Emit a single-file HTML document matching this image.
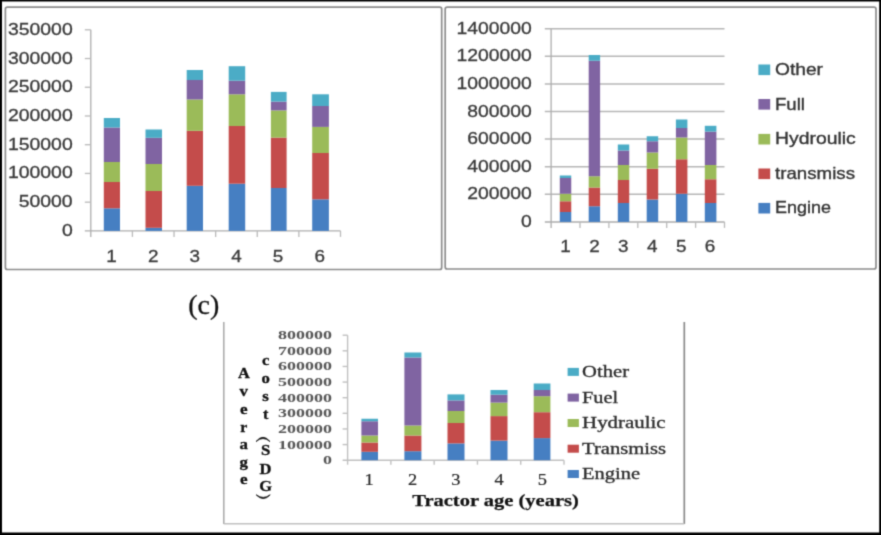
<!DOCTYPE html>
<html>
<head>
<meta charset="utf-8">
<title>Tractor repair cost charts</title>
<style>
html, body { margin: 0; padding: 0; background: #ffffff; }
body { position: relative; width: 881px; height: 535px; overflow: hidden; font-family: "Liberation Sans", sans-serif; }
svg { display: block; }
</style>
</head>
<body>
<svg width="881" height="535" viewBox="0 0 881 535">
<defs><filter id="soft" filterUnits="userSpaceOnUse" x="-10" y="-10" width="901" height="555" color-interpolation-filters="sRGB"><feConvolveMatrix order="3" kernelMatrix="0.02768 0.11101 0.02768 0.11101 0.44521 0.11101 0.02768 0.11101 0.02768" divisor="1" edgeMode="duplicate" preserveAlpha="true"/></filter></defs>
<g filter="url(#soft)">
<rect x="-10.00" y="-10.00" width="901.00" height="555.00" fill="#ffffff"/>
<rect x="-10.00" y="-10.00" width="901.00" height="11.50" fill="#000"/>
<rect x="-10.00" y="532.50" width="901.00" height="12.50" fill="#000"/>
<rect x="-10.00" y="-10.00" width="12.00" height="555.00" fill="#000"/>
<rect x="879.20" y="-10.00" width="11.80" height="555.00" fill="#000"/>
<rect x="5.4" y="7.1" width="436.30" height="262.40" rx="2" ry="2" fill="none" stroke="#8c8c8c" stroke-width="1.7"/>
<line x1="90.80" y1="29.80" x2="90.80" y2="236.90" stroke="#adadad" stroke-width="1.3"/>
<line x1="84.80" y1="230.90" x2="340.50" y2="230.90" stroke="#adadad" stroke-width="1.3"/>
<text x="72.70" y="235.90" font-family='"Liberation Sans", sans-serif' font-size="16.6" fill="#3a3a3a" text-anchor="end" font-weight="normal" stroke="#3a3a3a" stroke-width="0.3" textLength="10.80" lengthAdjust="spacingAndGlyphs" >0</text>
<line x1="84.80" y1="202.17" x2="90.80" y2="202.17" stroke="#bababa" stroke-width="1.3"/>
<text x="72.70" y="207.17" font-family='"Liberation Sans", sans-serif' font-size="16.6" fill="#3a3a3a" text-anchor="end" font-weight="normal" stroke="#3a3a3a" stroke-width="0.3" textLength="54.00" lengthAdjust="spacingAndGlyphs" >50000</text>
<line x1="84.80" y1="173.44" x2="90.80" y2="173.44" stroke="#bababa" stroke-width="1.3"/>
<text x="72.70" y="178.44" font-family='"Liberation Sans", sans-serif' font-size="16.6" fill="#3a3a3a" text-anchor="end" font-weight="normal" stroke="#3a3a3a" stroke-width="0.3" textLength="64.80" lengthAdjust="spacingAndGlyphs" >100000</text>
<line x1="84.80" y1="144.71" x2="90.80" y2="144.71" stroke="#bababa" stroke-width="1.3"/>
<text x="72.70" y="149.71" font-family='"Liberation Sans", sans-serif' font-size="16.6" fill="#3a3a3a" text-anchor="end" font-weight="normal" stroke="#3a3a3a" stroke-width="0.3" textLength="64.80" lengthAdjust="spacingAndGlyphs" >150000</text>
<line x1="84.80" y1="115.99" x2="90.80" y2="115.99" stroke="#bababa" stroke-width="1.3"/>
<text x="72.70" y="120.99" font-family='"Liberation Sans", sans-serif' font-size="16.6" fill="#3a3a3a" text-anchor="end" font-weight="normal" stroke="#3a3a3a" stroke-width="0.3" textLength="64.80" lengthAdjust="spacingAndGlyphs" >200000</text>
<line x1="84.80" y1="87.26" x2="90.80" y2="87.26" stroke="#bababa" stroke-width="1.3"/>
<text x="72.70" y="92.26" font-family='"Liberation Sans", sans-serif' font-size="16.6" fill="#3a3a3a" text-anchor="end" font-weight="normal" stroke="#3a3a3a" stroke-width="0.3" textLength="64.80" lengthAdjust="spacingAndGlyphs" >250000</text>
<line x1="84.80" y1="58.53" x2="90.80" y2="58.53" stroke="#bababa" stroke-width="1.3"/>
<text x="72.70" y="63.53" font-family='"Liberation Sans", sans-serif' font-size="16.6" fill="#3a3a3a" text-anchor="end" font-weight="normal" stroke="#3a3a3a" stroke-width="0.3" textLength="64.80" lengthAdjust="spacingAndGlyphs" >300000</text>
<line x1="84.80" y1="29.80" x2="90.80" y2="29.80" stroke="#bababa" stroke-width="1.3"/>
<text x="72.70" y="34.80" font-family='"Liberation Sans", sans-serif' font-size="16.6" fill="#3a3a3a" text-anchor="end" font-weight="normal" stroke="#3a3a3a" stroke-width="0.3" textLength="64.80" lengthAdjust="spacingAndGlyphs" >350000</text>
<line x1="132.42" y1="230.90" x2="132.42" y2="236.90" stroke="#bababa" stroke-width="1.3"/>
<line x1="174.03" y1="230.90" x2="174.03" y2="236.90" stroke="#bababa" stroke-width="1.3"/>
<line x1="215.65" y1="230.90" x2="215.65" y2="236.90" stroke="#bababa" stroke-width="1.3"/>
<line x1="257.27" y1="230.90" x2="257.27" y2="236.90" stroke="#bababa" stroke-width="1.3"/>
<line x1="298.88" y1="230.90" x2="298.88" y2="236.90" stroke="#bababa" stroke-width="1.3"/>
<line x1="340.50" y1="230.90" x2="340.50" y2="236.90" stroke="#bababa" stroke-width="1.3"/>
<text x="111.61" y="262.30" font-family='"Liberation Sans", sans-serif' font-size="16.6" fill="#3a3a3a" text-anchor="middle" font-weight="normal" stroke="#3a3a3a" stroke-width="0.3" textLength="10.50" lengthAdjust="spacingAndGlyphs" >1</text>
<text x="153.22" y="262.30" font-family='"Liberation Sans", sans-serif' font-size="16.6" fill="#3a3a3a" text-anchor="middle" font-weight="normal" stroke="#3a3a3a" stroke-width="0.3" textLength="10.50" lengthAdjust="spacingAndGlyphs" >2</text>
<text x="194.84" y="262.30" font-family='"Liberation Sans", sans-serif' font-size="16.6" fill="#3a3a3a" text-anchor="middle" font-weight="normal" stroke="#3a3a3a" stroke-width="0.3" textLength="10.50" lengthAdjust="spacingAndGlyphs" >3</text>
<text x="236.46" y="262.30" font-family='"Liberation Sans", sans-serif' font-size="16.6" fill="#3a3a3a" text-anchor="middle" font-weight="normal" stroke="#3a3a3a" stroke-width="0.3" textLength="10.50" lengthAdjust="spacingAndGlyphs" >4</text>
<text x="278.07" y="262.30" font-family='"Liberation Sans", sans-serif' font-size="16.6" fill="#3a3a3a" text-anchor="middle" font-weight="normal" stroke="#3a3a3a" stroke-width="0.3" textLength="10.50" lengthAdjust="spacingAndGlyphs" >5</text>
<text x="319.69" y="262.30" font-family='"Liberation Sans", sans-serif' font-size="16.6" fill="#3a3a3a" text-anchor="middle" font-weight="normal" stroke="#3a3a3a" stroke-width="0.3" textLength="10.50" lengthAdjust="spacingAndGlyphs" >6</text>
<rect x="103.80" y="208.30" width="16.20" height="22.60" fill="#467fc2"/>
<rect x="103.80" y="182.00" width="16.20" height="26.30" fill="#c44c4b"/>
<rect x="103.80" y="162.00" width="16.20" height="20.00" fill="#9bbb59"/>
<rect x="103.80" y="127.50" width="16.20" height="34.50" fill="#8064a2"/>
<rect x="103.80" y="118.00" width="16.20" height="9.50" fill="#4bacc6"/>
<rect x="145.50" y="227.80" width="16.50" height="3.10" fill="#467fc2"/>
<rect x="145.50" y="191.00" width="16.50" height="36.80" fill="#c44c4b"/>
<rect x="145.50" y="164.00" width="16.50" height="27.00" fill="#9bbb59"/>
<rect x="145.50" y="137.80" width="16.50" height="26.20" fill="#8064a2"/>
<rect x="145.50" y="129.50" width="16.50" height="8.30" fill="#4bacc6"/>
<rect x="186.70" y="185.80" width="16.30" height="45.10" fill="#467fc2"/>
<rect x="186.70" y="130.80" width="16.30" height="55.00" fill="#c44c4b"/>
<rect x="186.70" y="99.50" width="16.30" height="31.30" fill="#9bbb59"/>
<rect x="186.70" y="80.00" width="16.30" height="19.50" fill="#8064a2"/>
<rect x="186.70" y="70.00" width="16.30" height="10.00" fill="#4bacc6"/>
<rect x="228.70" y="183.70" width="16.50" height="47.20" fill="#467fc2"/>
<rect x="228.70" y="126.00" width="16.50" height="57.70" fill="#c44c4b"/>
<rect x="228.70" y="94.30" width="16.50" height="31.70" fill="#9bbb59"/>
<rect x="228.70" y="80.70" width="16.50" height="13.60" fill="#8064a2"/>
<rect x="228.70" y="66.20" width="16.50" height="14.50" fill="#4bacc6"/>
<rect x="270.90" y="188.00" width="15.70" height="42.90" fill="#467fc2"/>
<rect x="270.90" y="137.60" width="15.70" height="50.40" fill="#c44c4b"/>
<rect x="270.90" y="110.40" width="15.70" height="27.20" fill="#9bbb59"/>
<rect x="270.90" y="101.60" width="15.70" height="8.80" fill="#8064a2"/>
<rect x="270.90" y="91.90" width="15.70" height="9.70" fill="#4bacc6"/>
<rect x="312.20" y="199.30" width="16.70" height="31.60" fill="#467fc2"/>
<rect x="312.20" y="153.00" width="16.70" height="46.30" fill="#c44c4b"/>
<rect x="312.20" y="126.90" width="16.70" height="26.10" fill="#9bbb59"/>
<rect x="312.20" y="106.00" width="16.70" height="20.90" fill="#8064a2"/>
<rect x="312.20" y="94.30" width="16.70" height="11.70" fill="#4bacc6"/>
<rect x="445.2" y="7.1" width="430.80" height="261.90" rx="2" ry="2" fill="none" stroke="#8c8c8c" stroke-width="1.7"/>
<line x1="544.80" y1="221.90" x2="724.50" y2="221.90" stroke="#adadad" stroke-width="1.5"/>
<text x="531.80" y="226.90" font-family='"Liberation Sans", sans-serif' font-size="16.6" fill="#3a3a3a" text-anchor="end" font-weight="normal" stroke="#3a3a3a" stroke-width="0.3" textLength="10.75" lengthAdjust="spacingAndGlyphs" >0</text>
<line x1="544.80" y1="194.30" x2="724.50" y2="194.30" stroke="#b6b6b6" stroke-width="1.5"/>
<text x="531.80" y="199.30" font-family='"Liberation Sans", sans-serif' font-size="16.6" fill="#3a3a3a" text-anchor="end" font-weight="normal" stroke="#3a3a3a" stroke-width="0.3" textLength="64.50" lengthAdjust="spacingAndGlyphs" >200000</text>
<line x1="544.80" y1="166.70" x2="724.50" y2="166.70" stroke="#b6b6b6" stroke-width="1.5"/>
<text x="531.80" y="171.70" font-family='"Liberation Sans", sans-serif' font-size="16.6" fill="#3a3a3a" text-anchor="end" font-weight="normal" stroke="#3a3a3a" stroke-width="0.3" textLength="64.50" lengthAdjust="spacingAndGlyphs" >400000</text>
<line x1="544.80" y1="139.10" x2="724.50" y2="139.10" stroke="#b6b6b6" stroke-width="1.5"/>
<text x="531.80" y="144.10" font-family='"Liberation Sans", sans-serif' font-size="16.6" fill="#3a3a3a" text-anchor="end" font-weight="normal" stroke="#3a3a3a" stroke-width="0.3" textLength="64.50" lengthAdjust="spacingAndGlyphs" >600000</text>
<line x1="544.80" y1="111.50" x2="724.50" y2="111.50" stroke="#b6b6b6" stroke-width="1.5"/>
<text x="531.80" y="116.50" font-family='"Liberation Sans", sans-serif' font-size="16.6" fill="#3a3a3a" text-anchor="end" font-weight="normal" stroke="#3a3a3a" stroke-width="0.3" textLength="64.50" lengthAdjust="spacingAndGlyphs" >800000</text>
<line x1="544.80" y1="83.90" x2="724.50" y2="83.90" stroke="#b6b6b6" stroke-width="1.5"/>
<text x="531.80" y="88.90" font-family='"Liberation Sans", sans-serif' font-size="16.6" fill="#3a3a3a" text-anchor="end" font-weight="normal" stroke="#3a3a3a" stroke-width="0.3" textLength="75.25" lengthAdjust="spacingAndGlyphs" >1000000</text>
<line x1="544.80" y1="56.30" x2="724.50" y2="56.30" stroke="#b6b6b6" stroke-width="1.5"/>
<text x="531.80" y="61.30" font-family='"Liberation Sans", sans-serif' font-size="16.6" fill="#3a3a3a" text-anchor="end" font-weight="normal" stroke="#3a3a3a" stroke-width="0.3" textLength="75.25" lengthAdjust="spacingAndGlyphs" >1200000</text>
<line x1="544.80" y1="28.70" x2="724.50" y2="28.70" stroke="#b6b6b6" stroke-width="1.5"/>
<text x="531.80" y="33.70" font-family='"Liberation Sans", sans-serif' font-size="16.6" fill="#3a3a3a" text-anchor="end" font-weight="normal" stroke="#3a3a3a" stroke-width="0.3" textLength="75.25" lengthAdjust="spacingAndGlyphs" >1400000</text>
<line x1="551.10" y1="28.70" x2="551.10" y2="227.90" stroke="#adadad" stroke-width="1.3"/>
<line x1="580.00" y1="221.90" x2="580.00" y2="227.90" stroke="#bababa" stroke-width="1.3"/>
<line x1="608.90" y1="221.90" x2="608.90" y2="227.90" stroke="#bababa" stroke-width="1.3"/>
<line x1="637.80" y1="221.90" x2="637.80" y2="227.90" stroke="#bababa" stroke-width="1.3"/>
<line x1="666.70" y1="221.90" x2="666.70" y2="227.90" stroke="#bababa" stroke-width="1.3"/>
<line x1="695.60" y1="221.90" x2="695.60" y2="227.90" stroke="#bababa" stroke-width="1.3"/>
<line x1="724.50" y1="221.90" x2="724.50" y2="227.90" stroke="#bababa" stroke-width="1.3"/>
<text x="565.55" y="252.20" font-family='"Liberation Sans", sans-serif' font-size="16.6" fill="#3a3a3a" text-anchor="middle" font-weight="normal" stroke="#3a3a3a" stroke-width="0.3" textLength="10.50" lengthAdjust="spacingAndGlyphs" >1</text>
<text x="594.45" y="252.20" font-family='"Liberation Sans", sans-serif' font-size="16.6" fill="#3a3a3a" text-anchor="middle" font-weight="normal" stroke="#3a3a3a" stroke-width="0.3" textLength="10.50" lengthAdjust="spacingAndGlyphs" >2</text>
<text x="623.35" y="252.20" font-family='"Liberation Sans", sans-serif' font-size="16.6" fill="#3a3a3a" text-anchor="middle" font-weight="normal" stroke="#3a3a3a" stroke-width="0.3" textLength="10.50" lengthAdjust="spacingAndGlyphs" >3</text>
<text x="652.25" y="252.20" font-family='"Liberation Sans", sans-serif' font-size="16.6" fill="#3a3a3a" text-anchor="middle" font-weight="normal" stroke="#3a3a3a" stroke-width="0.3" textLength="10.50" lengthAdjust="spacingAndGlyphs" >4</text>
<text x="681.15" y="252.20" font-family='"Liberation Sans", sans-serif' font-size="16.6" fill="#3a3a3a" text-anchor="middle" font-weight="normal" stroke="#3a3a3a" stroke-width="0.3" textLength="10.50" lengthAdjust="spacingAndGlyphs" >5</text>
<text x="710.05" y="252.20" font-family='"Liberation Sans", sans-serif' font-size="16.6" fill="#3a3a3a" text-anchor="middle" font-weight="normal" stroke="#3a3a3a" stroke-width="0.3" textLength="10.50" lengthAdjust="spacingAndGlyphs" >6</text>
<rect x="559.80" y="212.00" width="11.45" height="9.90" fill="#467fc2"/>
<rect x="559.80" y="201.25" width="11.45" height="10.75" fill="#c44c4b"/>
<rect x="559.80" y="193.75" width="11.45" height="7.50" fill="#9bbb59"/>
<rect x="559.80" y="178.00" width="11.45" height="15.75" fill="#8064a2"/>
<rect x="559.80" y="175.50" width="11.45" height="2.50" fill="#4bacc6"/>
<rect x="588.70" y="206.25" width="11.40" height="15.65" fill="#467fc2"/>
<rect x="588.70" y="187.50" width="11.40" height="18.75" fill="#c44c4b"/>
<rect x="588.70" y="176.25" width="11.40" height="11.25" fill="#9bbb59"/>
<rect x="588.70" y="60.75" width="11.40" height="115.50" fill="#8064a2"/>
<rect x="588.70" y="55.00" width="11.40" height="5.75" fill="#4bacc6"/>
<rect x="617.80" y="203.00" width="11.45" height="18.90" fill="#467fc2"/>
<rect x="617.80" y="180.00" width="11.45" height="23.00" fill="#c44c4b"/>
<rect x="617.80" y="165.00" width="11.45" height="15.00" fill="#9bbb59"/>
<rect x="617.80" y="150.50" width="11.45" height="14.50" fill="#8064a2"/>
<rect x="617.80" y="144.50" width="11.45" height="6.00" fill="#4bacc6"/>
<rect x="646.70" y="199.50" width="11.50" height="22.40" fill="#467fc2"/>
<rect x="646.70" y="168.75" width="11.50" height="30.75" fill="#c44c4b"/>
<rect x="646.70" y="152.50" width="11.50" height="16.25" fill="#9bbb59"/>
<rect x="646.70" y="141.25" width="11.50" height="11.25" fill="#8064a2"/>
<rect x="646.70" y="136.25" width="11.50" height="5.00" fill="#4bacc6"/>
<rect x="675.90" y="193.75" width="11.50" height="28.15" fill="#467fc2"/>
<rect x="675.90" y="159.25" width="11.50" height="34.50" fill="#c44c4b"/>
<rect x="675.90" y="137.50" width="11.50" height="21.75" fill="#9bbb59"/>
<rect x="675.90" y="128.00" width="11.50" height="9.50" fill="#8064a2"/>
<rect x="675.90" y="119.50" width="11.50" height="8.50" fill="#4bacc6"/>
<rect x="704.80" y="203.00" width="11.60" height="18.90" fill="#467fc2"/>
<rect x="704.80" y="179.25" width="11.60" height="23.75" fill="#c44c4b"/>
<rect x="704.80" y="165.00" width="11.60" height="14.25" fill="#9bbb59"/>
<rect x="704.80" y="131.60" width="11.60" height="33.40" fill="#8064a2"/>
<rect x="704.80" y="125.80" width="11.60" height="5.80" fill="#4bacc6"/>
<rect x="758.40" y="64.50" width="11.80" height="10.60" fill="#4bacc6"/>
<text x="775.00" y="75.00" font-family='"Liberation Sans", sans-serif' font-size="17" fill="#333" text-anchor="start" font-weight="normal" stroke="#333" stroke-width="0.35" textLength="48.00" lengthAdjust="spacingAndGlyphs" >Other</text>
<rect x="758.40" y="99.00" width="11.80" height="10.60" fill="#8064a2"/>
<text x="775.00" y="109.50" font-family='"Liberation Sans", sans-serif' font-size="17" fill="#333" text-anchor="start" font-weight="normal" stroke="#333" stroke-width="0.35" textLength="30.00" lengthAdjust="spacingAndGlyphs" >Full</text>
<rect x="758.40" y="133.90" width="11.80" height="10.60" fill="#9bbb59"/>
<text x="775.00" y="144.40" font-family='"Liberation Sans", sans-serif' font-size="17" fill="#333" text-anchor="start" font-weight="normal" stroke="#333" stroke-width="0.35" textLength="80.70" lengthAdjust="spacingAndGlyphs" >Hydroulic</text>
<rect x="758.40" y="168.50" width="11.80" height="10.60" fill="#c44c4b"/>
<text x="775.00" y="179.00" font-family='"Liberation Sans", sans-serif' font-size="17" fill="#333" text-anchor="start" font-weight="normal" stroke="#333" stroke-width="0.35" textLength="80.00" lengthAdjust="spacingAndGlyphs" >transmiss</text>
<rect x="758.40" y="202.90" width="11.80" height="10.60" fill="#467fc2"/>
<text x="775.00" y="213.40" font-family='"Liberation Sans", sans-serif' font-size="17" fill="#333" text-anchor="start" font-weight="normal" stroke="#333" stroke-width="0.35" textLength="56.00" lengthAdjust="spacingAndGlyphs" >Engine</text>
<line x1="223.80" y1="322.00" x2="223.80" y2="524.00" stroke="#a8a8a8" stroke-width="1.5"/>
<line x1="684.30" y1="322.00" x2="684.30" y2="524.00" stroke="#8a8a8a" stroke-width="1.7"/>
<line x1="223.80" y1="523.80" x2="684.30" y2="523.80" stroke="#c0c0c0" stroke-width="1.6"/>
<text x="188.30" y="313.80" font-family='"Liberation Serif", serif' font-size="27.8" fill="#111" text-anchor="start" font-weight="normal" stroke="#111" stroke-width="0.3" textLength="31.00" lengthAdjust="spacingAndGlyphs" >(c)</text>
<line x1="347.60" y1="335.20" x2="347.60" y2="464.70" stroke="#c0c0c0" stroke-width="1.4"/>
<line x1="342.60" y1="460.20" x2="564.00" y2="460.20" stroke="#c0c0c0" stroke-width="1.4"/>
<text x="332.00" y="464.20" font-family='"Liberation Serif", serif' font-size="13.3" fill="#565656" text-anchor="end" font-weight="bold" textLength="9.00" lengthAdjust="spacingAndGlyphs" >0</text>
<line x1="342.60" y1="444.57" x2="347.60" y2="444.57" stroke="#c0c0c0" stroke-width="1.4"/>
<text x="332.00" y="448.57" font-family='"Liberation Serif", serif' font-size="13.3" fill="#565656" text-anchor="end" font-weight="bold" textLength="54.00" lengthAdjust="spacingAndGlyphs" >100000</text>
<line x1="342.60" y1="428.95" x2="347.60" y2="428.95" stroke="#c0c0c0" stroke-width="1.4"/>
<text x="332.00" y="432.95" font-family='"Liberation Serif", serif' font-size="13.3" fill="#565656" text-anchor="end" font-weight="bold" textLength="54.00" lengthAdjust="spacingAndGlyphs" >200000</text>
<line x1="342.60" y1="413.32" x2="347.60" y2="413.32" stroke="#c0c0c0" stroke-width="1.4"/>
<text x="332.00" y="417.32" font-family='"Liberation Serif", serif' font-size="13.3" fill="#565656" text-anchor="end" font-weight="bold" textLength="54.00" lengthAdjust="spacingAndGlyphs" >300000</text>
<line x1="342.60" y1="397.70" x2="347.60" y2="397.70" stroke="#c0c0c0" stroke-width="1.4"/>
<text x="332.00" y="401.70" font-family='"Liberation Serif", serif' font-size="13.3" fill="#565656" text-anchor="end" font-weight="bold" textLength="54.00" lengthAdjust="spacingAndGlyphs" >400000</text>
<line x1="342.60" y1="382.07" x2="347.60" y2="382.07" stroke="#c0c0c0" stroke-width="1.4"/>
<text x="332.00" y="386.07" font-family='"Liberation Serif", serif' font-size="13.3" fill="#565656" text-anchor="end" font-weight="bold" textLength="54.00" lengthAdjust="spacingAndGlyphs" >500000</text>
<line x1="342.60" y1="366.45" x2="347.60" y2="366.45" stroke="#c0c0c0" stroke-width="1.4"/>
<text x="332.00" y="370.45" font-family='"Liberation Serif", serif' font-size="13.3" fill="#565656" text-anchor="end" font-weight="bold" textLength="54.00" lengthAdjust="spacingAndGlyphs" >600000</text>
<line x1="342.60" y1="350.82" x2="347.60" y2="350.82" stroke="#c0c0c0" stroke-width="1.4"/>
<text x="332.00" y="354.82" font-family='"Liberation Serif", serif' font-size="13.3" fill="#565656" text-anchor="end" font-weight="bold" textLength="54.00" lengthAdjust="spacingAndGlyphs" >700000</text>
<line x1="342.60" y1="335.20" x2="347.60" y2="335.20" stroke="#c0c0c0" stroke-width="1.4"/>
<text x="332.00" y="339.20" font-family='"Liberation Serif", serif' font-size="13.3" fill="#565656" text-anchor="end" font-weight="bold" textLength="54.00" lengthAdjust="spacingAndGlyphs" >800000</text>
<line x1="390.88" y1="460.20" x2="390.88" y2="464.70" stroke="#c0c0c0" stroke-width="1.4"/>
<line x1="434.16" y1="460.20" x2="434.16" y2="464.70" stroke="#c0c0c0" stroke-width="1.4"/>
<line x1="477.44" y1="460.20" x2="477.44" y2="464.70" stroke="#c0c0c0" stroke-width="1.4"/>
<line x1="520.72" y1="460.20" x2="520.72" y2="464.70" stroke="#c0c0c0" stroke-width="1.4"/>
<line x1="564.00" y1="460.20" x2="564.00" y2="464.70" stroke="#c0c0c0" stroke-width="1.4"/>
<text x="369.24" y="484.80" font-family='"Liberation Serif", serif' font-size="16.5" fill="#262626" text-anchor="middle" font-weight="normal" stroke="#262626" stroke-width="0.2" textLength="9.20" lengthAdjust="spacingAndGlyphs" >1</text>
<text x="412.52" y="484.80" font-family='"Liberation Serif", serif' font-size="16.5" fill="#262626" text-anchor="middle" font-weight="normal" stroke="#262626" stroke-width="0.2" textLength="9.20" lengthAdjust="spacingAndGlyphs" >2</text>
<text x="455.80" y="484.80" font-family='"Liberation Serif", serif' font-size="16.5" fill="#262626" text-anchor="middle" font-weight="normal" stroke="#262626" stroke-width="0.2" textLength="9.20" lengthAdjust="spacingAndGlyphs" >3</text>
<text x="499.08" y="484.80" font-family='"Liberation Serif", serif' font-size="16.5" fill="#262626" text-anchor="middle" font-weight="normal" stroke="#262626" stroke-width="0.2" textLength="9.20" lengthAdjust="spacingAndGlyphs" >4</text>
<text x="542.36" y="484.80" font-family='"Liberation Serif", serif' font-size="16.5" fill="#262626" text-anchor="middle" font-weight="normal" stroke="#262626" stroke-width="0.2" textLength="9.20" lengthAdjust="spacingAndGlyphs" >5</text>
<rect x="361.40" y="451.80" width="16.60" height="8.40" fill="#467fc2"/>
<rect x="361.40" y="442.50" width="16.60" height="9.30" fill="#c44c4b"/>
<rect x="361.40" y="435.50" width="16.60" height="7.00" fill="#9bbb59"/>
<rect x="361.40" y="421.25" width="16.60" height="14.25" fill="#8064a2"/>
<rect x="361.40" y="418.75" width="16.60" height="2.50" fill="#4bacc6"/>
<rect x="404.40" y="451.20" width="17.00" height="9.00" fill="#467fc2"/>
<rect x="404.40" y="435.50" width="17.00" height="15.70" fill="#c44c4b"/>
<rect x="404.40" y="425.50" width="17.00" height="10.00" fill="#9bbb59"/>
<rect x="404.40" y="357.50" width="17.00" height="68.00" fill="#8064a2"/>
<rect x="404.40" y="352.50" width="17.00" height="5.00" fill="#4bacc6"/>
<rect x="447.50" y="443.40" width="17.00" height="16.80" fill="#467fc2"/>
<rect x="447.50" y="423.00" width="17.00" height="20.40" fill="#c44c4b"/>
<rect x="447.50" y="411.00" width="17.00" height="12.00" fill="#9bbb59"/>
<rect x="447.50" y="400.40" width="17.00" height="10.60" fill="#8064a2"/>
<rect x="447.50" y="394.40" width="17.00" height="6.00" fill="#4bacc6"/>
<rect x="490.50" y="440.60" width="17.00" height="19.60" fill="#467fc2"/>
<rect x="490.50" y="416.10" width="17.00" height="24.50" fill="#c44c4b"/>
<rect x="490.50" y="402.60" width="17.00" height="13.50" fill="#9bbb59"/>
<rect x="490.50" y="394.70" width="17.00" height="7.90" fill="#8064a2"/>
<rect x="490.50" y="390.00" width="17.00" height="4.70" fill="#4bacc6"/>
<rect x="533.70" y="438.10" width="16.70" height="22.10" fill="#467fc2"/>
<rect x="533.70" y="412.20" width="16.70" height="25.90" fill="#c44c4b"/>
<rect x="533.70" y="396.20" width="16.70" height="16.00" fill="#9bbb59"/>
<rect x="533.70" y="390.00" width="16.70" height="6.20" fill="#8064a2"/>
<rect x="533.70" y="383.50" width="16.70" height="6.50" fill="#4bacc6"/>
<rect x="567.60" y="367.90" width="11.30" height="8.00" fill="#4bacc6"/>
<text x="582.10" y="377.00" font-family='"Liberation Serif", serif' font-size="16.5" fill="#2c2c2c" text-anchor="start" font-weight="normal" stroke="#2c2c2c" stroke-width="0.3" textLength="47.00" lengthAdjust="spacingAndGlyphs" >Other</text>
<rect x="567.60" y="393.60" width="11.30" height="8.00" fill="#8064a2"/>
<text x="582.10" y="402.70" font-family='"Liberation Serif", serif' font-size="16.5" fill="#2c2c2c" text-anchor="start" font-weight="normal" stroke="#2c2c2c" stroke-width="0.3" textLength="36.00" lengthAdjust="spacingAndGlyphs" >Fuel</text>
<rect x="567.60" y="419.00" width="11.30" height="8.00" fill="#9bbb59"/>
<text x="582.10" y="428.10" font-family='"Liberation Serif", serif' font-size="16.5" fill="#2c2c2c" text-anchor="start" font-weight="normal" stroke="#2c2c2c" stroke-width="0.3" textLength="83.40" lengthAdjust="spacingAndGlyphs" >Hydraulic</text>
<rect x="567.60" y="444.70" width="11.30" height="8.00" fill="#c44c4b"/>
<text x="582.10" y="453.80" font-family='"Liberation Serif", serif' font-size="16.5" fill="#2c2c2c" text-anchor="start" font-weight="normal" stroke="#2c2c2c" stroke-width="0.3" textLength="84.00" lengthAdjust="spacingAndGlyphs" >Transmiss</text>
<rect x="567.60" y="470.00" width="11.30" height="8.00" fill="#467fc2"/>
<text x="582.10" y="479.10" font-family='"Liberation Serif", serif' font-size="16.5" fill="#2c2c2c" text-anchor="start" font-weight="normal" stroke="#2c2c2c" stroke-width="0.3" textLength="58.00" lengthAdjust="spacingAndGlyphs" >Engine</text>
<text x="412.30" y="506.30" font-family='"Liberation Serif", serif' font-size="17.6" fill="#111" text-anchor="start" font-weight="bold" stroke="#111" stroke-width="0.25" textLength="166.50" lengthAdjust="spacingAndGlyphs" >Tractor age (years)</text>
<text x="243.80" y="378.10" font-family='"Liberation Serif", serif' font-size="14.2" fill="#111" text-anchor="middle" font-weight="bold" stroke="#111" stroke-width="0.3" textLength="11.80" lengthAdjust="spacingAndGlyphs" >A</text>
<text x="243.80" y="395.60" font-family='"Liberation Serif", serif' font-size="14.2" fill="#111" text-anchor="middle" font-weight="bold" stroke="#111" stroke-width="0.3" textLength="8.40" lengthAdjust="spacingAndGlyphs" >v</text>
<text x="243.80" y="414.20" font-family='"Liberation Serif", serif' font-size="14.2" fill="#111" text-anchor="middle" font-weight="bold" stroke="#111" stroke-width="0.3" textLength="7.60" lengthAdjust="spacingAndGlyphs" >e</text>
<text x="243.80" y="431.80" font-family='"Liberation Serif", serif' font-size="14.2" fill="#111" text-anchor="middle" font-weight="bold" stroke="#111" stroke-width="0.3" textLength="7.00" lengthAdjust="spacingAndGlyphs" >r</text>
<text x="243.80" y="449.40" font-family='"Liberation Serif", serif' font-size="14.2" fill="#111" text-anchor="middle" font-weight="bold" stroke="#111" stroke-width="0.3" textLength="8.40" lengthAdjust="spacingAndGlyphs" >a</text>
<text x="243.80" y="466.50" font-family='"Liberation Serif", serif' font-size="14.2" fill="#111" text-anchor="middle" font-weight="bold" stroke="#111" stroke-width="0.3" textLength="8.40" lengthAdjust="spacingAndGlyphs" >g</text>
<text x="243.80" y="483.90" font-family='"Liberation Serif", serif' font-size="14.2" fill="#111" text-anchor="middle" font-weight="bold" stroke="#111" stroke-width="0.3" textLength="7.60" lengthAdjust="spacingAndGlyphs" >e</text>
<text x="265.60" y="364.80" font-family='"Liberation Serif", serif' font-size="14.2" fill="#111" text-anchor="middle" font-weight="bold" stroke="#111" stroke-width="0.3" textLength="7.40" lengthAdjust="spacingAndGlyphs" >c</text>
<text x="265.60" y="382.80" font-family='"Liberation Serif", serif' font-size="14.2" fill="#111" text-anchor="middle" font-weight="bold" stroke="#111" stroke-width="0.3" textLength="8.40" lengthAdjust="spacingAndGlyphs" >o</text>
<text x="265.60" y="400.80" font-family='"Liberation Serif", serif' font-size="14.2" fill="#111" text-anchor="middle" font-weight="bold" stroke="#111" stroke-width="0.3" textLength="6.60" lengthAdjust="spacingAndGlyphs" >s</text>
<text x="265.60" y="418.70" font-family='"Liberation Serif", serif' font-size="14.2" fill="#111" text-anchor="middle" font-weight="bold" stroke="#111" stroke-width="0.3" textLength="5.40" lengthAdjust="spacingAndGlyphs" >t</text>
<text x="265.60" y="455.30" font-family='"Liberation Serif", serif' font-size="14.2" fill="#111" text-anchor="middle" font-weight="bold" stroke="#111" stroke-width="0.3" textLength="9.40" lengthAdjust="spacingAndGlyphs" >S</text>
<text x="265.60" y="473.80" font-family='"Liberation Serif", serif' font-size="14.2" fill="#111" text-anchor="middle" font-weight="bold" stroke="#111" stroke-width="0.3" textLength="12.00" lengthAdjust="spacingAndGlyphs" >D</text>
<text x="265.60" y="491.40" font-family='"Liberation Serif", serif' font-size="14.2" fill="#111" text-anchor="middle" font-weight="bold" stroke="#111" stroke-width="0.3" textLength="12.80" lengthAdjust="spacingAndGlyphs" >G</text>
<path d="M256.0 441.6 Q263 433.0 270 441.6 Q263 435.4 256.0 441.6 Z" fill="#111" stroke="#111" stroke-width="0.8" stroke-linejoin="round"/>
<path d="M256.2 494.8 Q263.2 502.4 270.2 494.8 Q263.2 500.0 256.2 494.8 Z" fill="#111" stroke="#111" stroke-width="0.8" stroke-linejoin="round"/>
</g>
</svg>
</body>
</html>
